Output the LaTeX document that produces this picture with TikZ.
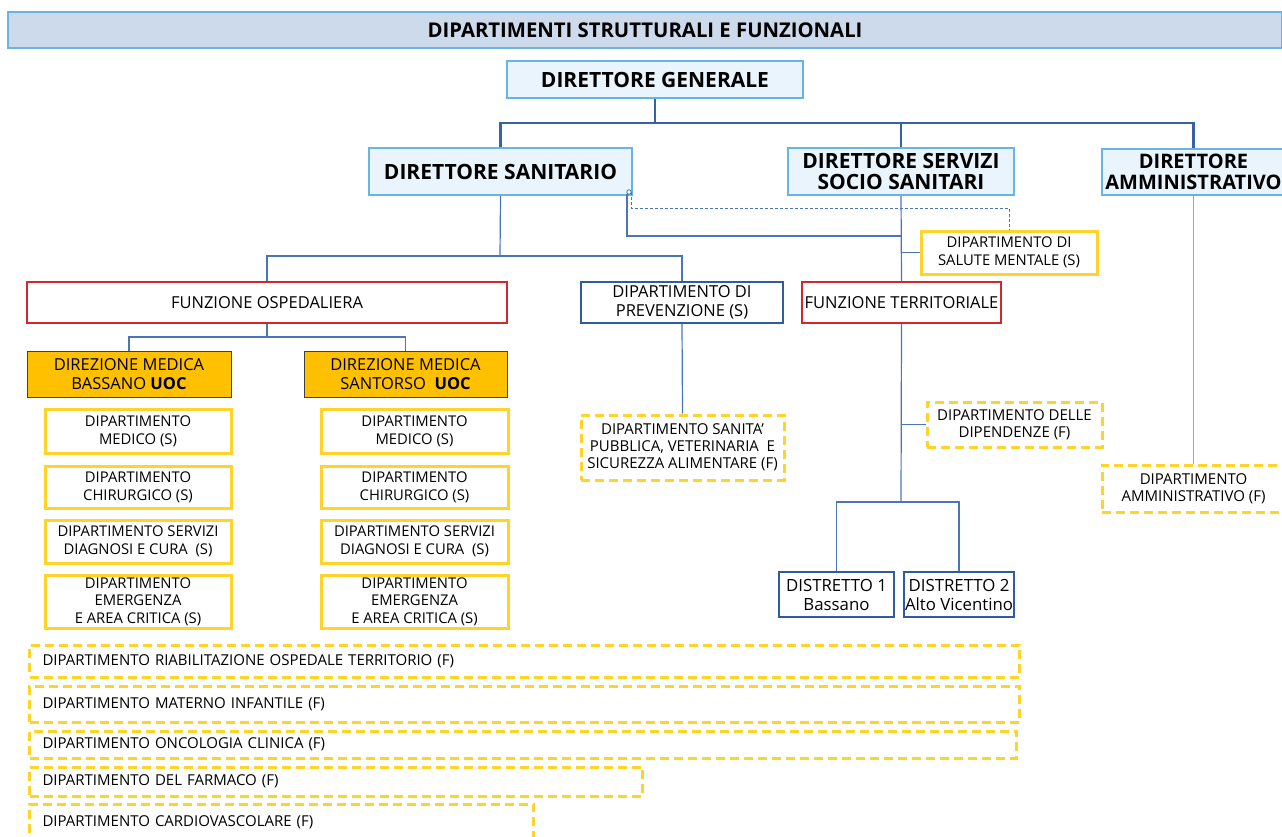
\documentclass[tikz,border=0pt]{standalone}
\usepackage{fontspec}
\setmainfont{Open Sans}
\usetikzlibrary{calc}
\definecolor{barfill}{HTML}{CCDAEC}
\definecolor{barline}{HTML}{6CB4E4}
\definecolor{dirfill}{HTML}{E9F4FC}
\definecolor{dirline}{HTML}{66B5E6}
\definecolor{redc}{HTML}{D0282D}
\definecolor{bluec}{HTML}{2F5D9A}
\definecolor{yel}{HTML}{FFD42A}
\definecolor{orng}{HTML}{FFC000}
\definecolor{conna}{HTML}{3862A3}
\definecolor{connb}{HTML}{4A76B8}
\definecolor{connc}{HTML}{8FAAD2}
\newcommand\fsz[2]{\fontsize{#1pt}{#2pt}\selectfont}
\begin{document}
\begin{tikzpicture}[x=1pt,y=-1pt,
  box/.style={draw, inner sep=0pt, align=center, text=black},
  titlebar/.style={box, fill=barfill, draw=barline, line width=1.5pt, font=\bfseries\fsz{20.3}{22}},
  dirbox/.style={box, fill=dirfill, draw=dirline, line width=2pt, font=\bfseries\fsz{21}{21.5}},
  redbox/.style={box, draw=redc, line width=2pt, font=\fsz{16.5}{19}},
  bluebox/.style={box, draw=bluec, line width=2pt, font=\fsz{16.5}{19}},
  ybox/.style={box, draw=yel, line width=3pt, font=\fsz{14.8}{18}},
  ydash/.style={box, draw=yel, line width=3pt, dash pattern=on 9pt off 5pt, font=\fsz{15}{17}},
  ybar/.style={ydash, anchor=west, inner xsep=13pt, align=left},
  orbox/.style={box, fill=orng, draw=black!75, line width=0.8pt, font=\fsz{16.5}{19}},
  ca/.style={draw=conna, line width=2.5pt},
  cb/.style={draw=connb, line width=1.2pt},
  cc/.style={draw=connc, line width=1.5pt},
  cd/.style={draw=connb, line width=0.9pt, dash pattern=on 3pt off 2pt}]
\useasboundingbox (0,0) rectangle (1282,836);
\fill[white] (0,0) rectangle (1282,836);

\node[titlebar, minimum width=1274, minimum height=36] (title) at (645,30) {DIPARTIMENTI STRUTTURALI E FUNZIONALI};

\node[dirbox, minimum width=296, minimum height=37] (dg) at (655,79.5) {DIRETTORE GENERALE};
\node[dirbox, minimum width=263, minimum height=47] (ds) at (500.5,171.5) {DIRETTORE SANITARIO};
\node[dirbox, minimum width=226, minimum height=47] (dss) at (901,171.5) {DIRETTORE SERVIZI\\SOCIO SANITARI};
\node[dirbox, minimum width=183, minimum height=46, font=\bfseries\fsz{20}{21.5}] (da) at (1193.5,172) {DIRETTORE\\AMMINISTRATIVO};

\node[redbox, minimum width=480, minimum height=41] (fo) at (267,302.5) {FUNZIONE OSPEDALIERA};
\node[bluebox, minimum width=202, minimum height=41] (prev) at (682,302.5) {DIPARTIMENTO DI\\PREVENZIONE (S)};
\node[redbox, minimum width=199, minimum height=41] (ft) at (901.5,302.5) {FUNZIONE TERRITORIALE};
\node[ybox, minimum width=176, minimum height=43] (sm) at (1009,252.5) {DIPARTIMENTO DI\\SALUTE MENTALE (S)};

\node[orbox, minimum width=204, minimum height=46] (dmb) at (129,374) {DIREZIONE MEDICA\\BASSANO \textbf{UOC}};
\node[orbox, minimum width=203, minimum height=46] (dms) at (405.5,374) {DIREZIONE MEDICA\\SANTORSO\ \ \textbf{UOC}};

\node[ybox, minimum width=186, minimum height=44] (l1) at (138,431) {DIPARTIMENTO\\MEDICO (S)};
\node[ybox, minimum width=186, minimum height=42] (l2) at (138,487) {DIPARTIMENTO\\CHIRURGICO (S)};
\node[ybox, minimum width=186, minimum height=43] (l3) at (138,541.5) {DIPARTIMENTO SERVIZI\\DIAGNOSI E CURA\ \ (S)};
\node[ybox, minimum width=186, minimum height=53, font=\fsz{14.8}{17.5}] (l4) at (138,601.5) {DIPARTIMENTO\\EMERGENZA\\E AREA CRITICA (S)};
\node[ybox, minimum width=187, minimum height=44] (r1) at (414.5,431) {DIPARTIMENTO\\MEDICO (S)};
\node[ybox, minimum width=187, minimum height=42] (r2) at (414.5,487) {DIPARTIMENTO\\CHIRURGICO (S)};
\node[ybox, minimum width=187, minimum height=43] (r3) at (414.5,541.5) {DIPARTIMENTO SERVIZI\\DIAGNOSI E CURA\ \ (S)};
\node[ybox, minimum width=187, minimum height=53, font=\fsz{14.8}{17.5}] (r4) at (414.5,601.5) {DIPARTIMENTO\\EMERGENZA\\E AREA CRITICA (S)};

\node[ydash, minimum width=203, minimum height=65] (sp) at (682.5,447.5) {DIPARTIMENTO SANITA'\\PUBBLICA, VETERINARIA\ \ E\\SICUREZZA ALIMENTARE (F)};
\node[ydash, minimum width=175, minimum height=45] (dip) at (1014.5,424.5) {DIPARTIMENTO DELLE\\DIPENDENZE (F)};
\node[ydash, minimum width=183, minimum height=47] (amm) at (1193.5,488.5) {DIPARTIMENTO\\AMMINISTRATIVO (F)};

\node[bluebox, minimum width=115, minimum height=45, font=\fsz{16.8}{19}] (d1) at (836.5,594.5) {DISTRETTO 1\\Bassano};
\node[bluebox, minimum width=110, minimum height=45, font=\fsz{16.8}{19}] (d2) at (959,594.5) {DISTRETTO 2\\Alto Vicentino};

\node[ybar, text width=964, minimum height=32] (b1) at (28,661) {DIPARTIMENTO RIABILITAZIONE OSPEDALE TERRITORIO (F)};
\node[ybar, text width=964, minimum height=36] (b2) at (28,704) {DIPARTIMENTO MATERNO INFANTILE (F)};
\node[ybar, text width=961, minimum height=27] (b3) at (28,744.5) {DIPARTIMENTO ONCOLOGIA CLINICA (F)};
\node[ybar, text width=587, minimum height=29] (b4) at (28,781.5) {DIPARTIMENTO DEL FARMACO (F)};
\node[ybar, text width=478, minimum height=36] (b5) at (28,822) {DIPARTIMENTO CARDIOVASCOLARE (F)};

% connectors
\coordinate (k1) at (655,123);
\draw[ca] (dg.south) -- (k1);
\draw[ca] (ds.north) |- (da.north |- k1) -- (da.north);
\draw[ca] (dss.north) -- (dss.north |- k1);

\coordinate (k2) at (500,256);
\draw[cb] (ds.south) -- (k2);
\draw[cb] (fo.north) |- (prev.north |- k2) -- (prev.north);

\coordinate (k3) at (267,337);
\draw[cb] (fo.south) -- (k3);
\draw[cb] (dmb.north) |- (dms.north |- k3) -- (dms.north);

\draw[cb] (dss.south) -- (ft.north);
\draw[cb] (dss.south |- sm.west) -- (sm.west);

\coordinate (dsc) at (629,192);
\coordinate (k4) at (901,236);
\coordinate (k5) at (1009,208);
\draw[cb] ($(dsc)+(-2,2)$) |- (k4);
\draw[cd] ($(dsc)+(2,0)$) |- (k5) -- (sm.north);
\draw[connb, line width=0.8pt, fill=white] (dsc) circle (2.2pt);

\draw[cb] (prev.south) -- (sp.north);

\coordinate (k6) at (901,502);
\draw[cb] (ft.south) -- (k6);
\draw[cb] (ft.south |- dip.west) -- (dip.west);
\draw[cb] (d1.north) |- (d2.north |- k6) -- (d2.north);

\draw[cc] (da.south) -- (amm.north);
\end{tikzpicture}
\end{document}
